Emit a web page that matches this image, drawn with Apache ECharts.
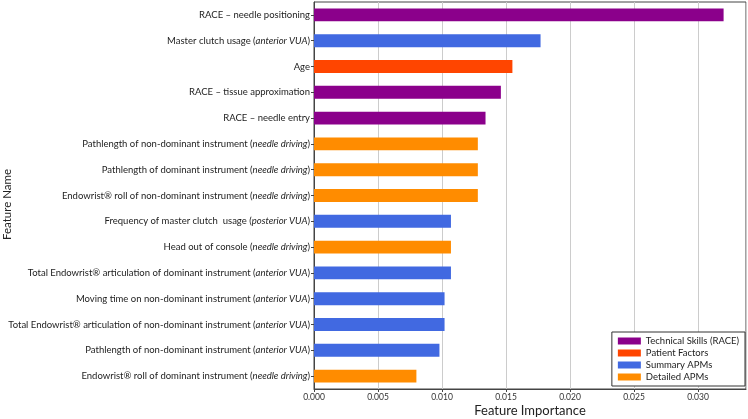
<!DOCTYPE html>
<html><head><meta charset="utf-8">
<script src="https://cdn.jsdelivr.net/npm/echarts@6/dist/echarts.min.js"></script>
<style>html,body{margin:0;padding:0;background:#fff}#c{width:748px;height:419px}</style>
</head><body><div id="c"></div>
<script>
const categories = [
  "RACE – needle positioning",
  "Master clutch usage (anterior VUA)",
  "Age",
  "RACE – tissue approximation",
  "RACE – needle entry",
  "Pathlength of non-dominant instrument (needle driving)",
  "Pathlength of dominant instrument (needle driving)",
  "Endowrist® roll of non-dominant instrument (needle driving)",
  "Frequency of master clutch  usage (posterior VUA)",
  "Head out of console (needle driving)",
  "Total Endowrist® articulation of dominant instrument (anterior VUA)",
  "Moving time on non-dominant instrument (anterior VUA)",
  "Total Endowrist® articulation of non-dominant instrument (anterior VUA)",
  "Pathlength of non-dominant instrument (anterior VUA)",
  "Endowrist® roll of dominant instrument (needle driving)"
];
const values = [0.0320, 0.0177, 0.0155, 0.0146, 0.0134, 0.0128, 0.0128, 0.0128, 0.0107, 0.0107, 0.0107, 0.0102, 0.0102, 0.0098, 0.0080];
const groups = ["Technical Skills (RACE)", "Summary APMs", "Patient Factors", "Technical Skills (RACE)", "Technical Skills (RACE)",
  "Detailed APMs", "Detailed APMs", "Detailed APMs", "Summary APMs", "Detailed APMs",
  "Summary APMs", "Summary APMs", "Summary APMs", "Summary APMs", "Detailed APMs"];
const groupNames = ["Technical Skills (RACE)", "Patient Factors", "Summary APMs", "Detailed APMs"];
const groupColors = ["#8B008B", "#FF4500", "#4169E1", "#FF8C00"];
const xTicks = [0, 0.005, 0.01, 0.015, 0.02, 0.025, 0.03];

const FONT = "Lato";
const series = groupNames.map((g, gi) => ({
  name: g,
  type: 'bar',
  stack: 'all',
  barWidth: '50%',
  itemStyle: { color: groupColors[gi] },
  data: values.map((v, i) => groups[i] === g ? v : '-')
}));

const chart = echarts.init(document.getElementById('c'));
chart.setOption({
  animation: false,
  textStyle: { fontFamily: FONT },
  grid: { left: 314, right: 2, top: 2, bottom: 30, containLabel: false, outerBoundsMode: 'none',
    show: true, borderColor: '#444', borderWidth: 1, backgroundColor: 'transparent' },
  legend: {
    data: groupNames,
    orient: 'vertical',
    right: 3, bottom: 33,
    itemWidth: 23, itemHeight: 7, itemGap: 2,
    padding: [4, 6, 4, 6],
    backgroundColor: '#fff',
    borderColor: '#333', borderWidth: 1,
    icon: 'rect',
    textStyle: { fontSize: 9.5, color: '#222', fontFamily: FONT }
  },
  xAxis: {
    type: 'value', min: 0, max: 0.03375, interval: 0.005,
    name: 'Feature Importance', nameLocation: 'middle', nameGap: 15, nameMoveOverlap: false,
    nameTextStyle: { fontSize: 13, color: '#222', fontFamily: FONT },
    axisLine: { show: true, lineStyle: { color: '#444' } },
    axisTick: { show: true, length: 3, lineStyle: { color: '#444' } },
    axisLabel: { fontSize: 8.5, color: '#333', margin: 4, showMaxLabel: false,
      formatter: v => v.toFixed(3) },
    splitLine: { show: true, lineStyle: { color: '#ccc', width: 1 } }
  },
  yAxis: {
    type: 'category', data: categories, inverse: true,
    name: 'Feature Name', nameLocation: 'middle', nameGap: 301, nameMoveOverlap: false,
    nameTextStyle: { fontSize: 11.5, color: '#222', fontFamily: FONT, padding: [0, 18, 0, 0] },
    axisLine: { show: true, lineStyle: { color: '#444' } },
    axisTick: { show: true, alignWithLabel: true, length: 3, lineStyle: { color: '#444' } },
    axisLabel: {
      fontSize: 9.5, color: '#222', margin: 4,
      formatter: function (s) {
        const k = s.indexOf('(');
        if (k < 0) return '{n|' + s + '}';
        const j = s.lastIndexOf(')');
        return '{n|' + s.slice(0, k + 1) + '}{i|' + s.slice(k + 1, j) + '}{n|)}';
      },
      rich: {
        n: { fontSize: 9.5, color: '#222', fontFamily: FONT },
        i: { fontSize: 9.5, color: '#222', fontStyle: 'italic', fontFamily: FONT }
      }
    },
    splitLine: { show: false }
  },
  series: series
});
</script></body></html>
